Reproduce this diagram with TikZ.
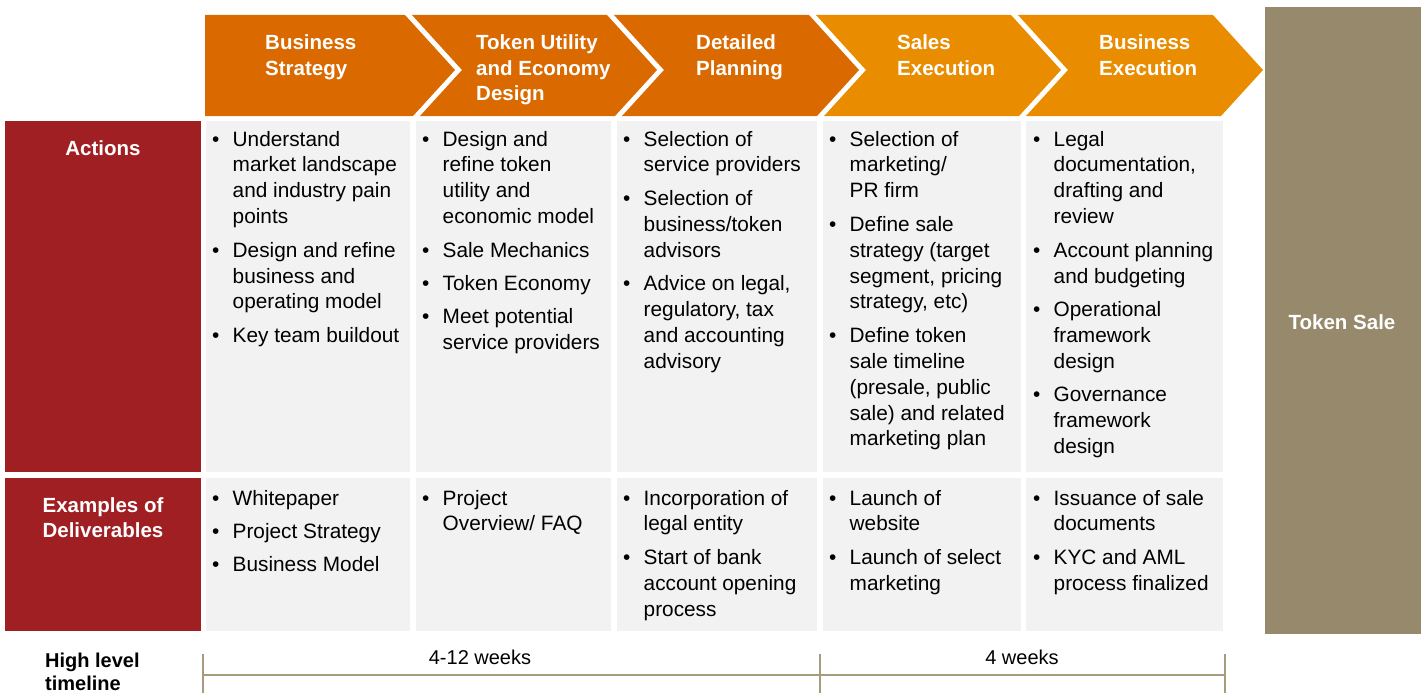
\documentclass[tikz,border=0pt]{standalone}
\usepackage{fontspec}
\setmainfont{Liberation Sans}
\definecolor{orangeD}{RGB}{218,106,0}
\definecolor{orangeL}{RGB}{234,140,0}
\definecolor{redbox}{RGB}{160,31,34}
\definecolor{tokensale}{RGB}{151,138,108}
\definecolor{cellgray}{RGB}{242,242,242}
\definecolor{tline}{RGB}{168,155,125}
\newcommand{\bodyfont}{\fontsize{20.8}{25.9}\selectfont}
\newcommand{\headfont}{\fontsize{20.5}{25.5}\selectfont\bfseries}
\newcommand{\bu}{\makebox[20.5pt][l]{\textbullet}}
\newcommand{\ig}{\\[7.5pt]}
\newcommand{\celltab}[1]{\begin{tabular}[t]{@{}l@{}l@{}}#1\end{tabular}}
\newcommand{\lefttab}[1]{\begin{tabular}[t]{@{}l@{}}#1\end{tabular}}
\newcommand{\centab}[1]{\begin{tabular}[t]{@{}c@{}}#1\end{tabular}}
\tikzset{
  celltext/.style={anchor=base west, inner sep=0pt, font=\bodyfont, text=black},
  headtext/.style={anchor=base west, inner sep=0pt, font=\headfont, text=white},
  labeltext/.style={anchor=base, inner sep=0pt, font=\headfont, text=white},
  tick/.style={draw=tline, line width=1.6pt},
  axis/.style={draw=tline, line width=2.4pt},
}
\begin{document}
\begin{tikzpicture}[x=1pt,y=-1pt]
\useasboundingbox (0,0) rectangle (1421,693);
% chevrons
\fill[orangeD] (205,15) -- (405,15) -- (455,70) -- (413,116) -- (205,116) -- cycle;
\fill[orangeD] (412,15) -- (607,15) -- (657,70) -- (615,116) -- (420,116) -- (462,70) -- cycle;
\fill[orangeD] (614,15) -- (809,15) -- (859,70) -- (817,116) -- (622,116) -- (664,70) -- cycle;
\fill[orangeL] (816,15) -- (1011,15) -- (1061,70) -- (1019,116) -- (824,116) -- (866,70) -- cycle;
\fill[orangeL] (1018,15) -- (1213,15) -- (1263,70) -- (1221,116) -- (1026,116) -- (1068,70) -- cycle;
% token sale
\fill[tokensale] (1265,7) rectangle (1421,634);
% red labels
\fill[redbox] (5,121) rectangle (201,472);
\fill[redbox] (5,478) rectangle (201,631);
% gray cells
\foreach \l/\r in {206/410, 416/611, 617/817, 823/1021, 1026/1223}{
  \fill[cellgray] (\l,121) rectangle (\r,472);
  \fill[cellgray] (\l,478) rectangle (\r,631);
}
% header texts
\node[headtext] (h1) at (265,50) {\lefttab{Business\\Strategy}};
\node[headtext] (h2) at (476,50) {\lefttab{Token Utility\\and Economy\\Design}};
\node[headtext] (h3) at (696,50) {\lefttab{Detailed\\Planning}};
\node[headtext] (h4) at (897,50) {\lefttab{Sales\\Execution}};
\node[headtext] (h5) at (1099,50) {\lefttab{Business\\Execution}};
% row labels
\node[labeltext] (actions) at (103,155) {Actions};
\node[labeltext] (deliv) at (103,512) {\centab{Examples of\\Deliverables}};
\node[labeltext] (tsale) at (1342,329) {Token Sale};
% action cells
\node[celltext] (a1) at (212,146) {\celltab{
\bu & Understand\\ & market landscape\\ & and industry pain\\ & points\ig
\bu & Design and refine\\ & business and\\ & operating model\ig
\bu & Key team buildout}};
\node[celltext] (a2) at (422,146) {\celltab{
\bu & Design and\\ & refine token\\ & utility and\\ & economic model\ig
\bu & Sale Mechanics\ig
\bu & Token Economy\ig
\bu & Meet potential\\ & service providers}};
\node[celltext] (a3) at (623,146) {\celltab{
\bu & Selection of\\ & service providers\ig
\bu & Selection of\\ & business/token\\ & advisors\ig
\bu & Advice on legal,\\ & regulatory, tax\\ & and accounting\\ & advisory}};
\node[celltext] (a4) at (829,146) {\celltab{
\bu & Selection of\\ & marketing/\\ & PR firm\ig
\bu & Define sale\\ & strategy (target\\ & segment, pricing\\ & strategy, etc)\ig
\bu & Define token\\ & sale timeline\\ & (presale, public\\ & sale) and related\\ & marketing plan}};
\node[celltext] (a5) at (1033,146) {\celltab{
\bu & Legal\\ & documentation,\\ & drafting and\\ & review\ig
\bu & Account planning\\ & and budgeting\ig
\bu & Operational\\ & framework\\ & design\ig
\bu & Governance\\ & framework\\ & design}};
% deliverable cells
\node[celltext] (d1) at (212,505) {\celltab{
\bu & Whitepaper\ig
\bu & Project Strategy\ig
\bu & Business Model}};
\node[celltext] (d2) at (422,505) {\celltab{
\bu & Project\\ & Overview/ FAQ}};
\node[celltext] (d3) at (623,505) {\celltab{
\bu & Incorporation of\\ & legal entity\ig
\bu & Start of bank\\ & account opening\\ & process}};
\node[celltext] (d4) at (829,505) {\celltab{
\bu & Launch of\\ & website\ig
\bu & Launch of select\\ & marketing}};
\node[celltext] (d5) at (1033,505) {\celltab{
\bu & Issuance of sale\\ & documents\ig
\bu & KYC and AML\\ & process finalized}};
% timeline
\node[anchor=base west, inner sep=0pt, font=\fontsize{20}{23}\selectfont\bfseries] (hlt) at (45,667) {\lefttab{High level\\timeline}};
\node[anchor=base, inner sep=0pt, font=\fontsize{20}{24}\selectfont] (w1) at (480,664) {4-12 weeks};
\node[anchor=base, inner sep=0pt, font=\fontsize{20}{24}\selectfont] (w2) at (1022,664) {4 weeks};
\coordinate (t1a) at (203,654); \coordinate (t1b) at (203,693);
\coordinate (t2a) at (820,654); \coordinate (t2b) at (820,693);
\coordinate (t3a) at (1225,654); \coordinate (t3b) at (1225,693);
\coordinate (axL) at (203,675); \coordinate (axR) at (1225,675);
\draw[tick] (t1a) -- (t1b);
\draw[tick] (t2a) -- (t2b);
\draw[tick] (t3a) -- (t3b);
\draw[axis] (axL) -- (axR);
\end{tikzpicture}
\end{document}
